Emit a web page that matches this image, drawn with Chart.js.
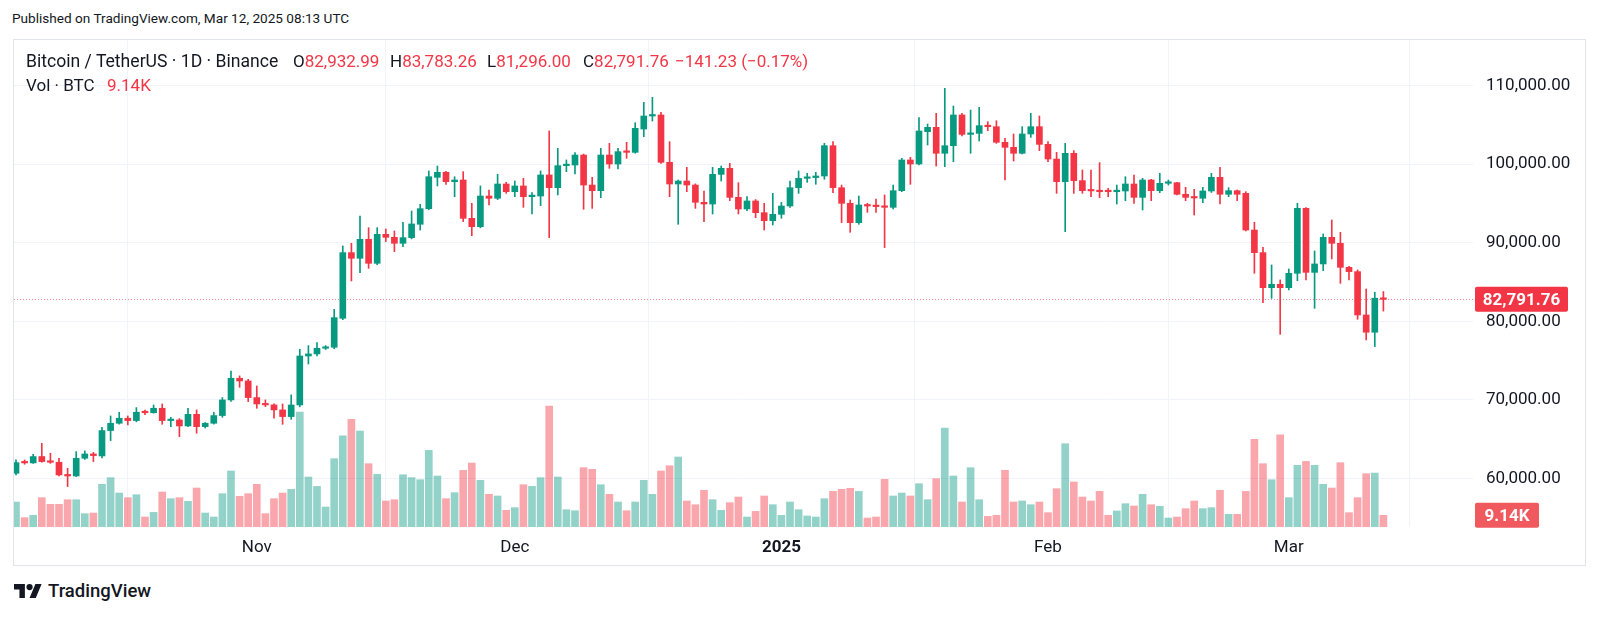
<!DOCTYPE html>
<html>
<head>
<meta charset="utf-8">
<script src="https://cdn.jsdelivr.net/npm/chart.js@4.4.1/dist/chart.umd.min.js"></script>
<style>
  html, body { margin: 0; padding: 0; background: #fff; }
  body { width: 1600px; height: 618px; position: relative; overflow: hidden; font-family: Roboto, "Noto Sans", sans-serif; color: #131722; }
  .abs { position: absolute; white-space: nowrap; }
  #published { left: 12px; top: 8px; font-size: 13.6px; line-height: 20px; }
  #frame { left: 13px; top: 39px; width: 1573px; height: 527px; border: 1px solid #e0e3eb; box-sizing: border-box; }
  #wrap { left: 14px; top: 40px; width: 1571px; height: 525px; }
  .lg { font-size: 17px; line-height: 22px; }
  .red { color: #f23645; }
  #logo { left: 14px; top: 579px; height: 24px; display: flex; align-items: center; font-size: 18.5px; font-weight: 500; }
  #logo svg { margin-right: 6px; }
</style>
</head>
<body>
<div class="abs" id="published">Published on TradingView.com, Mar 12, 2025 08:13 UTC</div>
<div class="abs" id="frame"></div>
<div class="abs" id="wrap"><canvas id="grafico"></canvas></div>

<div class="abs lg" style="left:26px; top:50px; font-size:17.6px;">Bitcoin / TetherUS · 1D · Binance</div>
<div class="abs lg" style="left:293px; top:50px;">O<span class="red">82,932.99</span></div>
<div class="abs lg" style="left:390px; top:50px;">H<span class="red">83,783.26</span></div>
<div class="abs lg" style="left:487px; top:50px;">L<span class="red">81,296.00</span></div>
<div class="abs lg" style="left:583px; top:50px;">C<span class="red">82,791.76</span></div>
<div class="abs lg red" style="left:675px; top:50px;">−141.23 (−0.17%)</div>
<div class="abs lg" style="left:26px; top:74px;">Vol · BTC</div>
<div class="abs lg red" style="left:107px; top:74px;">9.14K</div>

<div class="abs" id="logo">
  <svg width="28" height="14" viewBox="0 4 36 18" preserveAspectRatio="none"><path d="M14 22H7V11H0V4h14v18zM28 22h-8l7.5-18h8L28 22z" fill="#131722"/><circle cx="20" cy="8" r="4" fill="#131722"/></svg>
  <span>TradingView</span>
</div>

<script>
// BTCUSDT diário, 4 out 2024 (índice 0) até 12 mar 2025 (índice 159)
const abertura = [
  60640, 62000, 61960, 62770, 62130, 62040, 60430, 60300, 62550, 63100,
  62850, 66080, 67010, 67650, 67350, 68410, 68350, 68920, 67350, 67430,
  66670, 68150, 66580, 67010, 67990, 69980, 72740, 72400, 70280, 69470,
  69350, 68710, 67860, 69340, 75580, 75840, 76560, 76690, 80380, 88740,
  88020, 90440, 87380, 91070, 90690, 89930, 90650, 92350, 94340, 98330,
  98970, 97780, 97990, 93110, 92050, 95950, 95660, 97480, 96500, 97230,
  95870, 95950, 98630, 97010, 99820, 99900, 101170, 97350, 96630, 101170,
  100030, 101600, 101510, 104480, 106140, 106270, 100240, 97480, 97860, 97350,
  95150, 94930, 98710, 99480, 95780, 94300, 95320, 93830, 92810, 93620,
  94680, 97010, 98200, 98300, 98500, 102360, 97010, 95020, 92560, 94810,
  94680, 94600, 94510, 96630, 100540, 100030, 104140, 104700, 101390, 102360,
  106270, 103800, 103930, 104910, 104780, 102790, 102150, 101390, 103850, 104780,
  102530, 100660, 97780, 101390, 97910, 96630, 96600, 96590, 96500, 96590,
  97480, 95780, 97990, 96630, 97570, 97650, 96170, 95780, 95660, 96590,
  98330, 96170, 96630, 96290, 91620, 88740, 84280, 84710, 84280, 86110,
  94380, 86230, 87300, 90690, 89930, 86870, 86320, 80800, 78600, 82932.99
];
const maxima = [
  62340, 62340, 63050, 64460, 63190, 62550, 61280, 63400, 63490, 63300,
  66500, 67940, 68410, 67940, 69000, 68700, 69340, 69470, 67770, 67600,
  68920, 68710, 67100, 68410, 70280, 73670, 73040, 72610, 71760, 69980,
  69500, 69470, 70620, 76430, 76900, 77280, 76900, 81520, 89590, 89930,
  93410, 91920, 91920, 91750, 91500, 92600, 94040, 94890, 99140, 99770,
  99100, 98410, 99050, 95020, 97230, 96720, 98710, 97700, 97860, 98200,
  96380, 99140, 104230, 102020, 100540, 101470, 101300, 98330, 102020, 102660,
  102020, 102790, 105290, 107880, 108520, 106610, 102870, 97990, 99600, 97500,
  96590, 99600, 99770, 100110, 97650, 95870, 95500, 95020, 96290, 95150,
  97860, 99140, 98840, 98970, 102660, 102870, 97350, 95440, 95950, 95020,
  95570, 96080, 97350, 100750, 100880, 105930, 105120, 106480, 109660, 107410,
  106480, 106900, 107240, 105420, 105540, 103300, 103850, 104780, 106480, 106140,
  102870, 101510, 102660, 101730, 99260, 99260, 100200, 96930, 97350, 98410,
  98630, 98200, 98080, 98840, 97990, 97700, 97060, 96800, 97060, 98840,
  99600, 97010, 96720, 96500, 92600, 89420, 87170, 85260, 86660, 95020,
  94470, 88950, 91120, 92900, 91330, 87000, 86530, 84110, 83690, 83783.26
];
const minimas = [
  60430, 61790, 61900, 62050, 61900, 60300, 58950, 60220, 62400, 62130,
  62600, 64800, 66900, 66800, 67200, 68100, 68300, 66880, 66580, 65310,
  66580, 65740, 66400, 66900, 67770, 69800, 71590, 69770, 68920, 69130,
  67650, 66880, 67520, 69100, 74560, 75600, 76400, 76500, 80200, 85130,
  86190, 86740, 87200, 90140, 88870, 89500, 90500, 91620, 94200, 97230,
  97440, 95870, 92690, 90900, 91900, 94810, 95500, 96290, 95870, 94510,
  93660, 94720, 90650, 96080, 99050, 98750, 94260, 94380, 95740, 99480,
  99390, 100750, 101400, 103510, 105500, 100110, 95870, 92350, 96500, 94380,
  92690, 93660, 97860, 95360, 93660, 94100, 93190, 91620, 92260, 93110,
  94500, 96290, 97690, 97440, 98080, 96380, 92560, 91330, 92350, 93870,
  93870, 89380, 94300, 96500, 97440, 99900, 102450, 99770, 99690, 100320,
  103590, 101390, 102960, 104270, 102660, 97990, 100410, 101300, 103420, 101730,
  100320, 96290, 91410, 96290, 96290, 95870, 95740, 95870, 94930, 95360,
  95020, 94170, 95360, 96380, 97350, 96080, 95360, 93530, 95100, 96400,
  94930, 95870, 95360, 91500, 86110, 82370, 82920, 78340, 83990, 85170,
  85260, 81650, 86450, 87930, 84830, 85260, 80250, 77620, 76770, 81296.00
];
const fechamento = [
  62000, 61960, 62770, 62130, 62040, 60430, 60300, 62550, 63100, 62890,
  66080, 67010, 67650, 67350, 68410, 68350, 68920, 67350, 67430, 66670,
  68150, 66580, 67010, 67990, 69980, 72740, 72400, 70280, 69470, 69350,
  68710, 67860, 69340, 75580, 75840, 76560, 76690, 80460, 88740, 88020,
  90440, 87380, 91070, 90690, 89930, 90650, 92390, 94340, 98410, 98970,
  97780, 97990, 93110, 92050, 95950, 95660, 97480, 96500, 97230, 95870,
  95950, 98630, 97010, 99820, 99900, 101170, 97350, 96630, 101170, 100030,
  101600, 101510, 104570, 106140, 106270, 100240, 97480, 97860, 97350, 95150,
  94930, 98710, 99480, 95780, 94300, 95320, 93830, 92810, 93620, 94680,
  97010, 98200, 98300, 98500, 102360, 97010, 95020, 92560, 94810, 94680,
  94600, 94510, 96630, 100540, 100030, 104230, 104700, 101390, 102360, 106270,
  103800, 103930, 104910, 104780, 102790, 102150, 101390, 103850, 104780, 102530,
  100660, 97780, 101390, 97910, 96630, 96600, 96500, 96500, 96590, 97480,
  95780, 97990, 96630, 97570, 97650, 96170, 95780, 95700, 96590, 98330,
  96170, 96630, 96170, 91620, 88740, 84280, 84710, 84280, 86110, 94380,
  86230, 87300, 90690, 89930, 86870, 86320, 80800, 78600, 82933, 82791.76
];
// volume em milhares de BTC
const volumeK = [
  19.5, 7.3, 9.1, 22.9, 17.7, 17.7, 21.3, 21.3, 10.4, 10.9,
  33.3, 38.5, 26.5, 22.9, 25.2, 7.8, 11.4, 27.3, 22.1, 22.9,
  20.0, 30.4, 10.9, 7.8, 26.0, 43.7, 23.9, 26.0, 33.3, 10.4,
  22.1, 26.5, 29.4, 89.7, 39.0, 31.7, 15.6, 53.3, 71.2, 84.0,
  74.9, 49.4, 41.1, 20.3, 21.3, 40.8, 38.5, 36.9, 59.8, 39.8,
  22.1, 26.8, 44.2, 49.9, 36.4, 25.5, 24.2, 13.0, 15.1, 33.0,
  31.7, 38.5, 94.4, 39.0, 13.5, 12.7, 46.3, 45.0, 33.0, 25.5,
  19.5, 12.7, 19.5, 36.4, 25.5, 43.7, 47.8, 54.6, 20.3, 17.4,
  28.6, 21.3, 13.0, 19.0, 23.4, 7.8, 12.2, 24.2, 17.4, 9.1,
  19.5, 13.5, 8.6, 7.8, 22.1, 27.8, 29.4, 30.2, 27.8, 7.0,
  7.8, 37.2, 24.2, 26.5, 24.2, 33.8, 21.3, 37.7, 77.2, 39.8,
  19.5, 46.3, 21.3, 8.3, 9.1, 44.2, 19.5, 20.3, 17.4, 19.5,
  11.2, 29.9, 65.0, 35.1, 23.4, 20.3, 27.8, 9.1, 12.5, 18.2,
  16.4, 25.5, 17.4, 16.1, 7.0, 7.8, 14.3, 20.3, 14.3, 15.1,
  28.6, 9.9, 9.9, 27.8, 68.4, 49.4, 36.9, 72.0, 22.9, 48.1,
  51.2, 48.1, 33.3, 30.4, 50.2, 11.2, 22.9, 41.6, 42.1, 9.14
];
// marcas dos eixos
const diasMarca = [28, 58, 89, 120, 148];
const rotulosMarca = ['Nov', 'Dec', '2025', 'Feb', 'Mar'];
const precosMarca = [60000, 70000, 80000, 90000, 100000, 110000];

const VERDE = '#089981';
const VERMELHO = '#f23645';
const VERDE_VOL = 'rgba(8,153,129,0.44)';
const VERMELHO_VOL = 'rgba(242,54,69,0.44)';
const GRADE = '#f0f3fa';
const FONTE = 'Roboto, "Noto Sans", sans-serif';

const alta = fechamento.map((c, i) => c >= abertura[i]);
const cores = alta.map(a => a ? VERDE : VERMELHO);

const corpos = abertura.map((o, i) => ({ x: i, y: [o, fechamento[i]] }));
const pavios = minimas.map((l, i) => ({ x: i, y: [l, maxima[i]] }));
const volumes = volumeK.map((v, i) => ({ x: i, y: v }));

const ultimoPreco = fechamento[fechamento.length - 1];
const ultimoVol = volumeK[volumeK.length - 1];

// linha pontilhada + etiquetas do eixo de preço
const etiquetas = {
    id: 'etiquetas',
    beforeDatasetsDraw(chart) {
        const { ctx, chartArea, scales } = chart;
        const y = Math.round(scales.y.getPixelForValue(ultimoPreco)) + 0.5;
        ctx.save();
        ctx.strokeStyle = 'rgba(242,54,69,0.6)';
        ctx.lineWidth = 1;
        ctx.setLineDash([1, 2]);
        ctx.beginPath();
        ctx.moveTo(chartArea.left, y);
        ctx.lineTo(chartArea.right, y);
        ctx.stroke();
        ctx.restore();
    },
    afterDraw(chart) {
        const { ctx, chartArea, scales } = chart;
        const x0 = chartArea.right + 2;
        ctx.save();
        ctx.font = 'bold 17px ' + FONTE;
        ctx.textBaseline = 'middle';
        ctx.textAlign = 'center';

        let y = scales.y.getPixelForValue(ultimoPreco);
        ctx.fillStyle = VERMELHO;
        ctx.beginPath();
        ctx.roundRect(x0, y - 12.5, 93, 25, 2);
        ctx.fill();
        ctx.fillStyle = '#fff';
        ctx.fillText(ultimoPreco.toLocaleString('en-US', { minimumFractionDigits: 2 }), x0 + 46.5, y + 1);

        y = scales.yv.getPixelForValue(ultimoVol);
        ctx.fillStyle = '#f05a5f';
        ctx.beginPath();
        ctx.roundRect(x0, y - 12.5, 64, 25, 2);
        ctx.fill();
        ctx.fillStyle = '#fff';
        ctx.fillText(ultimoVol.toFixed(2) + 'K', x0 + 32, y + 1);
        ctx.restore();
    }
};

new Chart(document.getElementById('grafico'), {
    type: 'bar',
    data: {
        datasets: [
            { data: corpos, backgroundColor: cores, barThickness: 6, minBarLength: 1.5, grouped: false, yAxisID: 'y' },
            { data: pavios, backgroundColor: cores, barThickness: 1, grouped: false, yAxisID: 'y' },
            { data: volumes, backgroundColor: alta.map(a => a ? VERDE_VOL : VERMELHO_VOL), barThickness: 7, grouped: false, yAxisID: 'yv' }
        ]
    },
    options: {
        responsive: true,
        maintainAspectRatio: false,
        animation: false,
        layout: { padding: 0 },
        plugins: { legend: { display: false }, tooltip: { enabled: false } },
        scales: {
            x: {
                type: 'linear',
                min: -0.2326,
                max: 169.42,
                offset: false,
                grid: { color: GRADE, drawTicks: false },
                border: { display: false },
                afterBuildTicks: s => { s.ticks = diasMarca.map(v => ({ value: v })); },
                afterFit: s => { s.height = 38; s.paddingLeft = 0; s.paddingRight = 0; },
                ticks: {
                    padding: 11,
                    color: '#131722',
                    autoSkip: false,
                    maxRotation: 0,
                    font: c => ({ family: FONTE, size: 17, weight: (c.tick && c.tick.value === 89) ? 'bold' : 'normal' }),
                    callback: v => rotulosMarca[diasMarca.indexOf(v)]
                }
            },
            y: {
                position: 'right',
                min: 53798,
                max: 115820,
                grid: { color: GRADE, drawTicks: false },
                border: { display: false },
                afterBuildTicks: s => { s.ticks = precosMarca.map(v => ({ value: v })); },
                afterFit: s => { s.width = 112; s.paddingTop = 0; s.paddingBottom = 0; },
                ticks: {
                    padding: 13,
                    color: '#131722',
                    autoSkip: false,
                    font: { family: FONTE, size: 17 },
                    callback: v => v.toLocaleString('en-US', { minimumFractionDigits: 2, maximumFractionDigits: 2 })
                }
            },
            yv: { display: false, min: 0, max: 380 }
        }
    },
    plugins: [etiquetas]
});
</script>
</body>
</html>
